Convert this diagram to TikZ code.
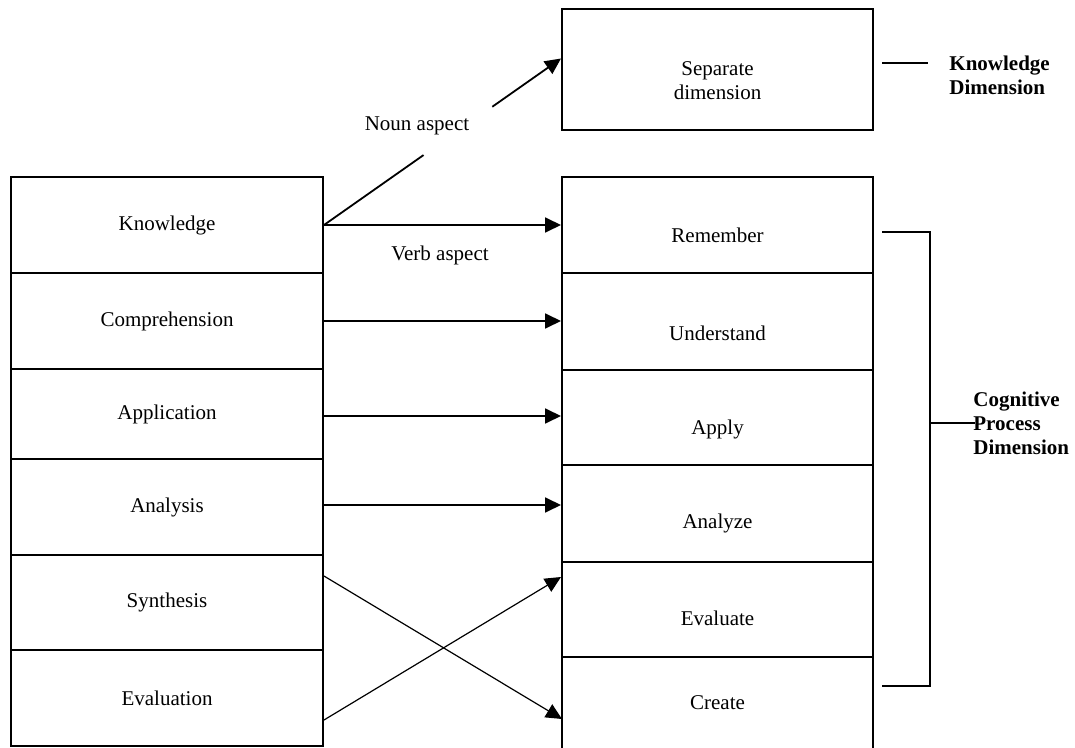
\documentclass[tikz,border=0pt]{standalone}
\usepackage{fontspec}
\setmainfont{Liberation Serif}
\usetikzlibrary{arrows.meta,calc}
\tikzset{
  cell/.style={draw, rectangle, line width=1pt, inner sep=0pt, anchor=north west, minimum width=#1},
  lcell/.style={cell=156pt},
  rcell/.style={cell=155.5pt},
  txt/.style={inner sep=0pt, font=\fontsize{10.5}{12}\selectfont, align=center},
  btxt/.style={inner sep=0pt, font=\fontsize{10.5}{12}\selectfont\bfseries, align=left, anchor=west},
  arr/.style={line width=0.9pt, -{Triangle[length=8pt,width=7.5pt]}},
  thinarr/.style={line width=0.6pt, -{Triangle[length=8pt,width=7.5pt]}},
  plain/.style={line width=0.9pt}
}
\begin{document}
\begin{tikzpicture}[x=0.5pt,y=-0.5pt]
\useasboundingbox (0,0) rectangle (1075,748);
% left column
\node[lcell, minimum height=48pt, txt] (kn) at (10,176) {Knowledge};
\node[lcell, minimum height=48pt, txt] (co) at (10,272) {Comprehension};
\node[lcell, minimum height=45pt, txt] (ap) at (10,368) {Application};
\node[lcell, minimum height=48pt, txt] (an) at (10,458) {Analysis};
\node[lcell, minimum height=47.5pt, txt] (sy) at (10,554) {Synthesis};
\node[lcell, minimum height=48pt, txt] (ev) at (10,649) {Evaluation};
% right column
\node[rcell, minimum height=48pt] (re) at (561,176) {};
\node[rcell, minimum height=48.5pt] (un) at (561,272) {};
\node[rcell, minimum height=47.5pt] (ay) at (561,369) {};
\node[rcell, minimum height=48.5pt] (az) at (561,464) {};
\node[rcell, minimum height=47.5pt] (ee) at (561,561) {};
\node[rcell, draw=none, outer sep=0pt, minimum height=46pt] (cr) at ([xshift=0.5pt,yshift=0.5pt]ee.south west) {};
\draw[line width=1pt] (cr.south west) -- (cr.north west) -- (cr.north east) -- (cr.south east);
\node[txt] (ret) at ([yshift=-5pt]re.center) {Remember};
\node[txt] (unt) at ([yshift=-6pt]un.center) {Understand};
\node[txt] (ayt) at ([yshift=-6pt]ay.center) {Apply};
\node[txt] (azt) at ([yshift=-5pt]az.center) {Analyze};
\node[txt] (eet) at ([yshift=-4.5pt]ee.center) {Evaluate};
\node[txt] (crt) at (cr.center) {Create};
% top box
\node[rcell, minimum height=60.5pt] (sd) at (561,8) {};
\node[txt] (sdt) at ([yshift=-5.5pt]sd.center) {Separate\\dimension};
% knowledge dimension label
\coordinate (kd1) at (882,63);
\coordinate (kd2) at (928,63);
\draw[plain] (kd1) -- (kd2);
\node[btxt] (kdt) at (949,75) {Knowledge\\Dimension};
% bracket
\coordinate (b1) at (882,232);
\coordinate (b2) at (930,232);
\coordinate (b3) at (930,686);
\coordinate (b4) at (882,686);
\coordinate (bm) at (930,423);
\coordinate (bt) at (975,423);
\draw[plain] (b1) -- (b2) -- (b3) -- (b4);
\draw[plain] (bm) -- (bt);
\node[btxt] (cpd) at (973,423) {Cognitive\\Process\\Dimension};
% arrows
\coordinate (tip) at ([yshift=5.5pt]sd.west);
\draw[plain] (kn.east) -- ($(kn.east)!0.42!(tip)$);
\draw[arr] ($(kn.east)!0.71!(tip)$) -- (tip);
\node[txt] (noun) at (417,126) {Noun aspect};
\draw[arr] (kn.east) -- (kn.east -| re.west);
\node[txt] (verb) at (440,255) {Verb aspect};
\draw[arr] (co.east) -- (co.east -| un.west);
\draw[arr] ([yshift=-1pt]ap.east) -- ([yshift=-1pt]ap.east -| ay.west);
\draw[arr] ([yshift=1pt]an.east) -- ([yshift=1pt]an.east -| az.west);
\draw[thinarr] ([yshift=-11pt]sy.north east) -- ([yshift=-8pt]cr.west);
\draw[thinarr] ([yshift=-11pt]ev.east) -- ([yshift=-8pt]ee.north west);
\end{tikzpicture}
\end{document}
